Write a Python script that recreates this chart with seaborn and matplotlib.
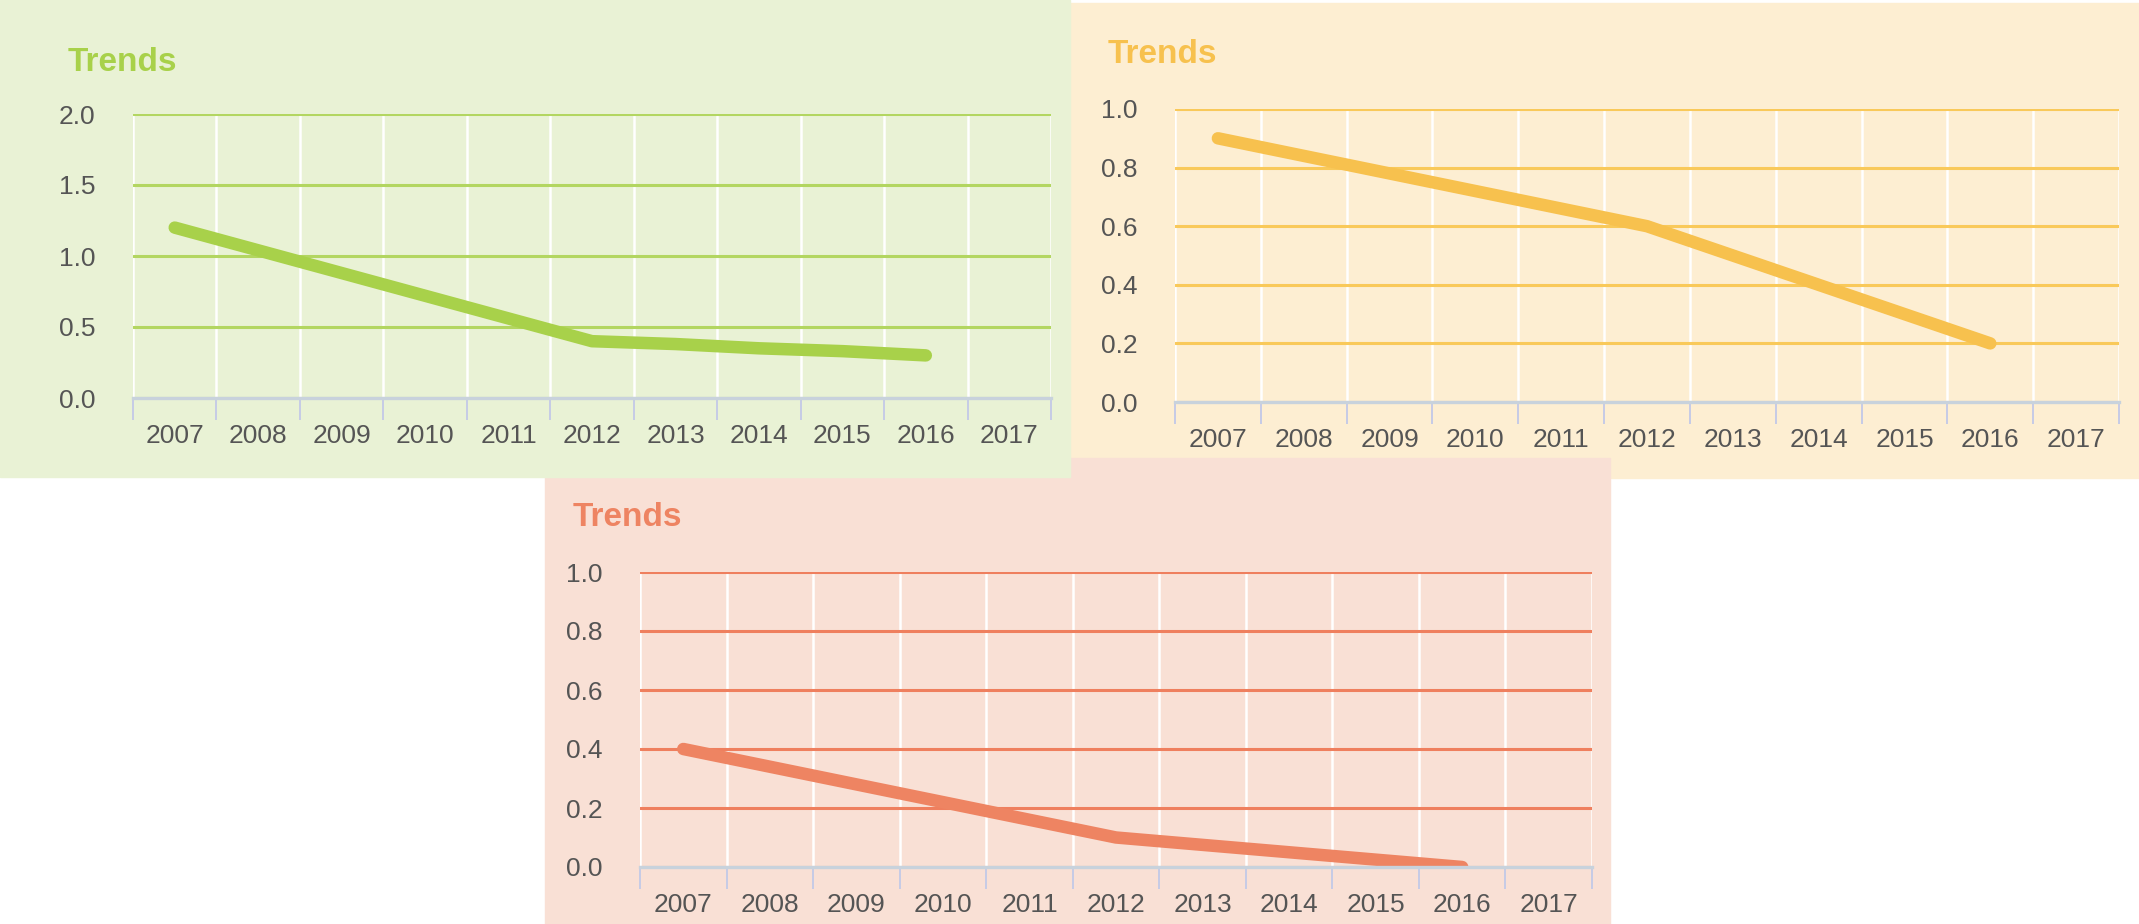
import pandas as pd
import seaborn as sns
import matplotlib.pyplot as plt
from matplotlib.patches import Rectangle
from matplotlib.ticker import FormatStrFormatter

years = [2007, 2008, 2009, 2010, 2011, 2012, 2013, 2014, 2015, 2016]
axis_years = [2007, 2008, 2009, 2010, 2011, 2012, 2013, 2014, 2015, 2016, 2017]
green_values = [1.20, 1.04, 0.88, 0.72, 0.56, 0.40, 0.38, 0.35, 0.33, 0.30]
orange_values = [0.90, 0.84, 0.78, 0.72, 0.66, 0.60, 0.50, 0.40, 0.30, 0.20]
pink_values = [0.40, 0.34, 0.28, 0.22, 0.16, 0.10, 0.075, 0.05, 0.025, 0.00]
green_ticks = [0.0, 0.5, 1.0, 1.5, 2.0]
small_ticks = [0.0, 0.2, 0.4, 0.6, 0.8, 1.0]

W, H = 2139, 924


def fig_rect(x0, y0, x1, y1):
    # pixel box (top-left origin) -> figure fraction [left, bottom, width, height]
    return [x0 / W, (H - y1) / H, (x1 - x0) / W, (y1 - y0) / H]


def draw_panel(fig, ax_box, values, ticks, line_col, grid_col, title_xy):
    ax = fig.add_axes(fig_rect(*ax_box))
    ax.patch.set_alpha(0)
    df = pd.DataFrame({'year': years, 'value': values})
    sns.lineplot(data=df, x='year', y='value', ax=ax, color=line_col,
                 linewidth=9, solid_capstyle='round', zorder=2)
    ax.set_xlim(2006.5, 2017.5)
    ax.set_ylim(ticks[0], ticks[-1])
    ax.set_xticks(axis_years)
    ax.set_xticklabels([str(y) for y in axis_years])
    ax.set_xticks([y - 0.5 for y in axis_years] + [2017.5], minor=True)
    ax.set_yticks(ticks)
    ax.yaxis.set_major_formatter(FormatStrFormatter('%.1f'))
    ax.set_xlabel('')
    ax.set_ylabel('')
    ax.grid(False)
    ax.grid(axis='y', which='major', color=grid_col, linewidth=2.2)
    ax.grid(axis='x', which='minor', color='white', linewidth=1.8)
    ax.set_axisbelow(True)
    for side in ['top', 'right', 'left']:
        ax.spines[side].set_visible(False)
    ax.spines['bottom'].set_color('#c8d2dc')
    ax.spines['bottom'].set_linewidth(2.4)
    ax.tick_params(axis='x', which='major', bottom=True, length=0, pad=19,
                   labelsize=19, labelcolor='#555555')
    ax.tick_params(axis='x', which='minor', bottom=True, length=16, width=1.4,
                   color='#c6cbe6', direction='out')
    ax.tick_params(axis='y', left=True, length=0, pad=27, labelsize=19,
                   labelcolor='#555555')
    fig.text(title_xy[0] / W, (H - title_xy[1]) / H, 'Trends',
             fontsize=24, fontweight='bold', color=line_col,
             ha='left', va='baseline')
    return ax


sns.set_style('white')
plt.rcParams['font.family'] = ['Liberation Sans', 'DejaVu Sans']

fig = plt.figure(figsize=(W / 100, H / 100), dpi=100)

# panel backgrounds: orange at the back, pink in the middle, green on top
fig.patches.append(Rectangle(fig_rect(1069, 3, 2139, 478)[:2], 1070 / W, 475 / H,
                             transform=fig.transFigure, color='#fdeed2', zorder=-3))
fig.patches.append(Rectangle(fig_rect(545, 458, 1610, 924)[:2], 1065 / W, 466 / H,
                             transform=fig.transFigure, color='#f9e0d5', zorder=-2))
fig.patches.append(Rectangle(fig_rect(0, 0, 1070, 477)[:2], 1070 / W, 477 / H,
                             transform=fig.transFigure, color='#e9f2d5', zorder=-1))

draw_panel(fig, (133, 114, 1051, 398), green_values, green_ticks,
           '#a8d14a', '#b3d661', (68, 71))
draw_panel(fig, (1175, 109, 2119, 402), orange_values, small_ticks,
           '#f7c14e', '#f9c95a', (1108, 63))
draw_panel(fig, (640, 572, 1592, 867), pink_values, small_ticks,
           '#ee8462', '#ef7f5e', (573, 526))

plt.savefig('out.png', dpi=100)
plt.close()
